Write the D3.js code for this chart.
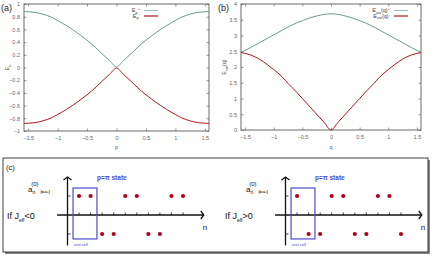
<!DOCTYPE html>
<html>
<head>
<meta charset="utf-8">
<script src="https://cdn.jsdelivr.net/npm/d3@7"></script>
<style>
  body { margin: 0; background: #fff; }
  svg text { font-family: "Liberation Sans", Arial, sans-serif; }
</style>
</head>
<body>
<div id="chart"></div>
<script>
// panel (a): quasi-energies vs p
var pVals      = [-1.571, -1.4, -1.25, -1.1, -1, -0.85, -0.75, -0.6, -0.5, -0.35, -0.25, -0.12, 0, 0.12, 0.25, 0.35, 0.5, 0.6, 0.75, 0.85, 1, 1.1, 1.25, 1.4, 1.571];
var epPlus     = [0.88, 0.87, 0.84, 0.79, 0.74, 0.66, 0.60, 0.50, 0.43, 0.31, 0.22, 0.11, 0.01, 0.11, 0.22, 0.31, 0.43, 0.50, 0.60, 0.66, 0.74, 0.79, 0.84, 0.87, 0.88];
var epMinus    = [-0.88, -0.87, -0.84, -0.79, -0.74, -0.66, -0.60, -0.50, -0.43, -0.31, -0.22, -0.11, -0.01, -0.11, -0.22, -0.31, -0.43, -0.50, -0.60, -0.66, -0.74, -0.79, -0.84, -0.87, -0.88];
var aYTicks    = [1, 0.8, 0.6, 0.4, 0.2, 0, -0.2, -0.4, -0.6, -0.8, -1];

// panel (b): Esw(q)
var qVals      = [-1.571, -1.4, -1.25, -1.1, -1, -0.85, -0.75, -0.6, -0.5, -0.35, -0.25, -0.12, 0, 0.12, 0.25, 0.35, 0.5, 0.6, 0.75, 0.85, 1, 1.1, 1.25, 1.4, 1.571];
var eswPlus    = [2.46, 2.62, 2.77, 2.92, 3.02, 3.17, 3.27, 3.40, 3.47, 3.57, 3.62, 3.67, 3.69, 3.67, 3.62, 3.57, 3.47, 3.40, 3.27, 3.17, 3.02, 2.92, 2.77, 2.62, 2.46];
var eswMinus   = [2.46, 2.38, 2.25, 2.06, 1.92, 1.68, 1.48, 1.20, 1.00, 0.70, 0.50, 0.24, 0.00, 0.24, 0.50, 0.70, 1.00, 1.20, 1.48, 1.68, 1.92, 2.06, 2.25, 2.38, 2.46];
var bYTicks    = [4, 3.5, 3, 2.5, 2, 1.5, 1, 0.5, 0];

var xTicks     = [-1.5, -1, -0.5, 0, 0.5, 1, 1.5];

// panel (c): sign of a_n for n = 1..10
var siteN      = [1, 2, 3, 4, 5, 6, 7, 8, 9, 10];
var signNeg    = [1, 1, -1, -1, 1, 1, -1, -1, 1, 1];
var signPos    = [1, -1, -1, 1, 1, -1, -1, 1, 1, -1];

var greenCol = "#6b9993", redCol = "#b3171d", blueCol = "#4a4ad6", dotCol = "#b0001e";

var svg = d3.select("#chart").append("svg")
    .attr("width", 436).attr("height", 261);

function drawPlot(opt) {
  var x = d3.scaleLinear().domain([-1.571, 1.571]).range([opt.left, opt.right]);
  var y = d3.scaleLinear().domain(opt.yDomain).range([opt.bottom, opt.top]);
  var g = svg.append("g");

  // inward ticks on all four sides, gnuplot style
  g.append("g").attr("transform", "translate(0," + opt.bottom + ")")
    .call(d3.axisBottom(x).tickValues(xTicks).tickSize(-2.5).tickPadding(5)
      .tickFormat(d3.format("")));
  g.append("g").attr("transform", "translate(0," + opt.top + ")")
    .call(d3.axisTop(x).tickValues(xTicks).tickSize(-2.5).tickFormat(""));
  g.append("g").attr("transform", "translate(" + opt.left + ",0)")
    .call(d3.axisLeft(y).tickValues(opt.yTicks).tickSize(-2.5).tickPadding(4)
      .tickFormat(d3.format("")));
  g.append("g").attr("transform", "translate(" + opt.right + ",0)")
    .call(d3.axisRight(y).tickValues(opt.yTicks).tickSize(-2.5).tickFormat(""));
  g.selectAll(".domain").remove();
  g.selectAll(".tick line").attr("stroke", "#555").attr("stroke-width", 0.6);
  g.selectAll(".tick text").attr("fill", "#666").style("font-size", "5.5px");

  g.append("rect")
    .attr("x", opt.left).attr("y", opt.top)
    .attr("width", opt.right - opt.left).attr("height", opt.bottom - opt.top)
    .attr("fill", "none").attr("stroke", "#444").attr("stroke-width", 0.8);

  var line = d3.line().curve(d3.curveMonotoneX)
    .x(function(d) { return x(d[0]); })
    .y(function(d) { return y(d[1]); });

  g.append("path").datum(d3.zip(opt.xs, opt.upper))
    .attr("d", line).attr("fill", "none").attr("stroke", greenCol).attr("stroke-width", 1);
  g.append("path").datum(d3.zip(opt.xs, opt.lower))
    .attr("d", line).attr("fill", "none").attr("stroke", redCol).attr("stroke-width", 1);

  // legend
  var lg = g.append("g").style("font-size", "5.5px").attr("fill", "#444");
  lg.append("text").attr("x", opt.legX).attr("y", opt.top + 8).attr("text-anchor", "end")
    .html(opt.leg1);
  lg.append("text").attr("x", opt.legX).attr("y", opt.top + 13.5).attr("text-anchor", "end")
    .html(opt.leg2);
  lg.append("line").attr("x1", opt.legX + 4).attr("x2", opt.legX + 18)
    .attr("y1", opt.top + 6.5).attr("y2", opt.top + 6.5).attr("stroke", "#9cbcb6").attr("stroke-width", 1);
  lg.append("line").attr("x1", opt.legX + 4).attr("x2", opt.legX + 18)
    .attr("y1", opt.top + 12).attr("y2", opt.top + 12).attr("stroke", redCol).attr("stroke-width", 1.2);

  // panel letter and axis titles
  g.append("text").attr("x", opt.left - 23).attr("y", 11).style("font-size", "9px")
    .attr("fill", "#222").text(opt.letter);
  g.append("text").attr("x", (opt.left + opt.right) / 2).attr("y", 149)
    .attr("text-anchor", "middle").style("font-size", "5.5px").attr("fill", "#555").text(opt.xLabel);
  g.append("text").attr("transform", "translate(" + (opt.left - 15) + "," + ((opt.top + opt.bottom) / 2) + ") rotate(-90)")
    .attr("text-anchor", "middle").style("font-size", "5.5px").attr("fill", "#555").html(opt.yLabel);
}

drawPlot({
  left: 24, right: 209, top: 4, bottom: 131, yDomain: [-1, 1], yTicks: aYTicks,
  xs: pVals, upper: epPlus, lower: epMinus, legX: 140, letter: "(a)", xLabel: "p",
  leg1: "E<tspan dy='1.5' font-size='4px'>p</tspan><tspan dy='-4' font-size='4px'>+</tspan>",
  leg2: "E<tspan dy='1.5' font-size='4px'>p</tspan><tspan dy='-4' font-size='4px'>-</tspan>",
  yLabel: "E<tspan dy='1.5' font-size='4px'>p</tspan>"
});

drawPlot({
  left: 241, right: 421, top: 4, bottom: 130, yDomain: [0, 4], yTicks: bYTicks,
  xs: qVals, upper: eswPlus, lower: eswMinus, legX: 390, letter: "(b)", xLabel: "q",
  leg1: "E<tspan dy='1.5' font-size='4px'>sw</tspan><tspan dy='-1.5'>(q)</tspan><tspan dy='-2' font-size='4px'>+</tspan>",
  leg2: "E<tspan dy='1.5' font-size='4px'>sw</tspan><tspan dy='-1.5'>(q)</tspan><tspan dy='-2' font-size='4px'>-</tspan>",
  yLabel: "E<tspan dy='1.5' font-size='4px'>sw</tspan><tspan dy='-1.5'>(q)</tspan>"
});

// panel (c) frame with shadow
svg.append("rect").attr("x", 5).attr("y", 160).attr("width", 425).attr("height", 94).attr("fill", "#888");
svg.append("rect").attr("x", 3).attr("y", 158).attr("width", 425).attr("height", 94)
  .attr("fill", "#fff").attr("stroke", "#111").attr("stroke-width", 0.8);
svg.append("text").attr("x", 6).attr("y", 170).style("font-size", "7.5px").attr("fill", "#111").text("(c)");

function drawChain(offset, signs, relation) {
  var xN = d3.scaleLinear().domain([0, 10]).range([67.5 + offset, 183 + offset]);
  var yA = d3.scaleLinear().domain([-1, 1]).range([234, 196]);
  var g = svg.append("g");

  // axes with open arrowheads
  g.append("line").attr("x1", xN(-0.9)).attr("x2", xN(11.8)).attr("y1", yA(0)).attr("y2", yA(0))
    .attr("stroke", "#111").attr("stroke-width", 1.3);
  g.append("line").attr("x1", xN(0)).attr("x2", xN(0)).attr("y1", yA(-1.6)).attr("y2", yA(2))
    .attr("stroke", "#111").attr("stroke-width", 1.3);
  g.append("path")
    .attr("d", "M" + (xN(11.8) - 3) + "," + (yA(0) - 4) + "L" + xN(11.8) + "," + yA(0) + "L" + (xN(11.8) - 3) + "," + (yA(0) + 4))
    .attr("fill", "none").attr("stroke", "#111").attr("stroke-width", 1.3);
  g.append("path")
    .attr("d", "M" + (xN(0) - 4) + "," + (yA(2) + 3) + "L" + xN(0) + "," + yA(2) + "L" + (xN(0) + 4) + "," + (yA(2) + 3))
    .attr("fill", "none").attr("stroke", "#111").attr("stroke-width", 1.3);

  g.selectAll(".xt").data(siteN).enter().append("line")
    .attr("x1", function(d) { return xN(d); }).attr("x2", function(d) { return xN(d); })
    .attr("y1", yA(0) - 2.5).attr("y2", yA(0)).attr("stroke", "#111").attr("stroke-width", 0.8);
  g.selectAll(".yt").data([1, -1]).enter().append("line")
    .attr("x1", xN(0)).attr("x2", xN(0) + 3)
    .attr("y1", function(d) { return yA(d); }).attr("y2", function(d) { return yA(d); })
    .attr("stroke", "#111").attr("stroke-width", 0.8);

  // unit cell
  g.append("rect").attr("x", xN(0.48)).attr("y", yA(1.42))
    .attr("width", xN(2.55) - xN(0.48)).attr("height", yA(-1.26) - yA(1.42))
    .attr("fill", "none").attr("stroke", blueCol).attr("stroke-width", 1.2);
  g.append("text").attr("x", xN(0.55)).attr("y", 246).style("font-size", "4.2px")
    .attr("fill", blueCol).text("unit cell");
  g.append("text").attr("x", xN(2.55)).attr("y", 180).style("font-size", "6.5px")
    .style("font-weight", "bold").attr("fill", blueCol).text("p=\u03c0 state");

  g.selectAll("circle").data(d3.zip(siteN, signs)).enter().append("circle")
    .attr("cx", function(d) { return xN(d[0]); })
    .attr("cy", function(d) { return yA(d[1]); })
    .attr("r", 2.1).attr("fill", dotCol);

  // labels
  g.append("text").attr("x", xN(11.7)).attr("y", 230).style("font-size", "8px").attr("fill", "#111").text("n");
  g.append("text").attr("x", 28 + offset).attr("y", 192).style("font-size", "8px").attr("fill", "#111")
    .html("a<tspan dy='2' font-size='5px'>n</tspan><tspan dx='-4' dy='-8' font-size='6px'>(0)</tspan>" +
          "<tspan dx='2' dy='6.5' font-size='3.8px' font-weight='bold'>(a.u.)</tspan>");
  g.append("text").attr("x", 7 + offset).attr("y", 219).style("font-size", "9px").attr("fill", "#111")
    .html("If J<tspan dy='3' font-size='5px'>eff</tspan><tspan dy='-3'>" + relation + "0</tspan>");
}

drawChain(0, signNeg, "&lt;");
drawChain(218, signPos, "&gt;");
</script>
</body>
</html>
